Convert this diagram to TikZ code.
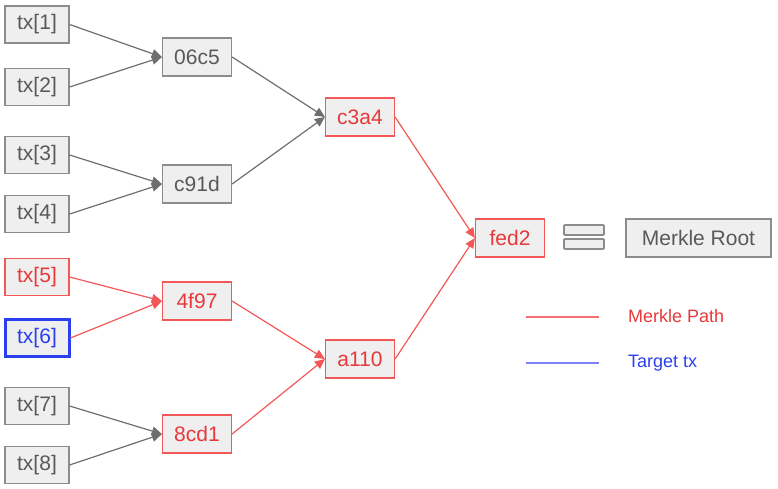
\documentclass[tikz,border=0pt]{standalone}
\usepackage{fontspec}
\setmainfont{Liberation Sans}
\usetikzlibrary{arrows.meta,positioning}

\definecolor{boxfill}{HTML}{EFEFEF}
\definecolor{boxline}{HTML}{8C8C8C}
\definecolor{txtgrey}{HTML}{595959}
\definecolor{edgegrey}{HTML}{6E6E6E}
\definecolor{pathred}{HTML}{E8383A}
\definecolor{linered}{HTML}{F25858}
\definecolor{tgtblue}{HTML}{2B3FF0}
\definecolor{legblue}{HTML}{8080F6}

\tikzset{
  hashbox/.style={draw=boxline, fill=boxfill, line width=1.2pt, text=txtgrey,
    minimum width=69pt, minimum height=38pt, inner sep=0pt,
    font=\fontsize{21}{25}\selectfont},
  txbox/.style={hashbox, minimum width=64pt, minimum height=37pt},
  onpath/.style={draw=linered, text=pathred},
  target/.style={draw=tgtblue, line width=3pt, text=tgtblue},
  edge/.style={draw=edgegrey, line width=1.2pt, -{Triangle[length=10pt,width=9pt]}},
  pathedge/.style={edge, draw=linered},
  legend/.style={anchor=west, inner sep=0pt, font=\fontsize{18}{22}\selectfont},
}

\begin{document}
\begin{tikzpicture}[x=1pt,y=-1pt]
  \useasboundingbox (0,0) rectangle (778,489);
  % leaves
  \node[txbox] (tx1) at (37,24.5) {tx[1]};
  \node[txbox] (tx2) at (37,87) {tx[2]};
  \node[txbox] (tx3) at (37,155) {tx[3]};
  \node[txbox] (tx4) at (37,214) {tx[4]};
  \node[txbox, onpath] (tx5) at (37,277) {tx[5]};
  \node[txbox, target] (tx6) at (37,338) {tx[6]};
  \node[txbox] (tx7) at (37,406) {tx[7]};
  \node[txbox] (tx8) at (37,465) {tx[8]};
  % inner hashes
  \node[hashbox] (h12) at (197,57) {06c5};
  \node[hashbox] (h34) at (197,184) {c91d};
  \node[hashbox, onpath] (h56) at (197,301) {4f97};
  \node[hashbox, onpath] (h78) at (197,434) {8cd1};
  \node[hashbox, onpath] (h14) at (360,117) {c3a4};
  \node[hashbox, onpath] (h58) at (360,359) {a110};
  \node[hashbox, onpath] (root) at (510,238) {fed2};
  \node[hashbox, minimum width=145pt] (mroot) at (698.5,238) {Merkle Root};
  % equals sign
  \draw[draw=boxline, fill=boxfill, line width=1.8pt, rounded corners=1pt]
    (564,225) rectangle (604,235) (564,239) rectangle (604,249);

  \draw[edge] (tx1.east) -- (h12.west);
  \draw[edge] (tx2.east) -- (h12.west);
  \draw[edge] (tx3.east) -- (h34.west);
  \draw[edge] (tx4.east) -- (h34.west);
  \draw[pathedge] (tx5.east) -- (h56.west);
  \draw[pathedge] (tx6.east) -- (h56.west);
  \draw[edge] (tx7.east) -- (h78.west);
  \draw[edge] (tx8.east) -- (h78.west);
  \draw[edge] (h12.east) -- (h14.west);
  \draw[edge] (h34.east) -- (h14.west);
  \draw[pathedge] (h56.east) -- (h58.west);
  \draw[pathedge] (h78.east) -- (h58.west);
  \draw[pathedge] (h14.east) -- (root.west);
  \draw[pathedge] (h58.east) -- (root.west);

  % legend
  \coordinate (lp) at (526,317);
  \coordinate (lt) at (526,363);
  \draw[linered!85, line width=1.5pt] (lp) -- ++(73,0);
  \draw[legblue, line width=1.5pt] (lt) -- ++(73,0);
  \node[legend, text=pathred] (lpath) at (628,316) {Merkle Path};
  \node[legend, text=tgtblue] (ltgt) at (628,363) {Target tx};
\end{tikzpicture}
\end{document}
